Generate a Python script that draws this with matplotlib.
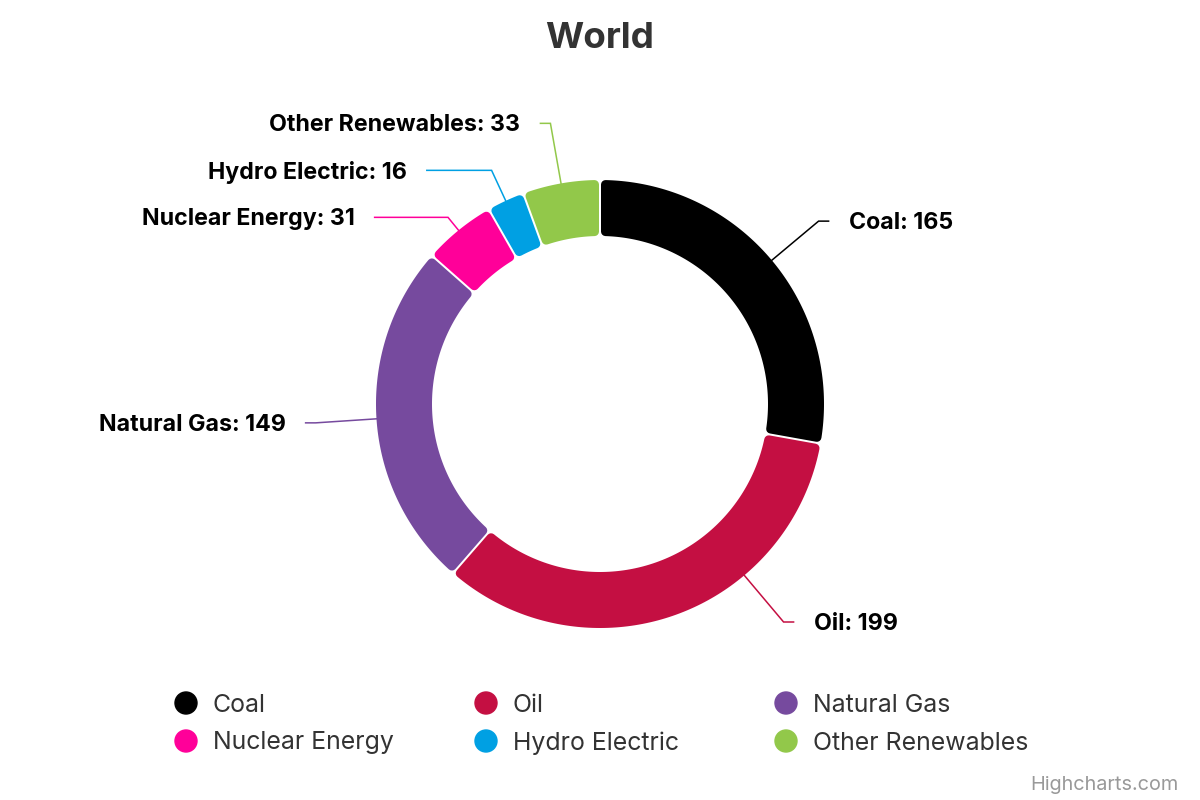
import numpy as np
import matplotlib
matplotlib.use("Agg")
import matplotlib.pyplot as plt
from matplotlib.patches import Polygon, Circle

plt.rcParams['font.family'] = ['Inter', 'DejaVu Sans']

# data
sources = ['Coal', 'Oil', 'Natural Gas', 'Nuclear Energy', 'Hydro Electric', 'Other Renewables']
values = [165, 199, 149, 31, 16, 33]
colors = ['#000000', '#c40f42', '#764a9e', '#ff0099', '#00a0e3', '#92c84a']

W, H = 1200, 800
fig = plt.figure(figsize=(12, 8), dpi=100)
ax = fig.add_axes([0, 0, 1, 1])

# pie geometry in pixel units (y pointing up)
cx, cy = 600, 396
R = 224
ring = 56
wedges, _ = ax.pie(values, colors=colors, startangle=90, counterclock=False,
                   radius=R, center=(cx, cy), wedgeprops=dict(width=ring))
ax.set_xlim(0, W)
ax.set_ylim(0, H)
ax.set_aspect('equal')
ax.axis('off')

# redraw each slice with rounded corners and a small white gap
rc = 4.5     # corner radius px
gap = 1.0    # half gap px
lw_pt = 2 * rc * 72 / 100
for w, col in zip(wedges, colors):
    w.set_visible(False)
    t1, t2 = np.radians(w.theta1), np.radians(w.theta2)
    ro, ri = R - rc, R - ring + rc
    d = rc + gap
    do, di = np.arcsin(d / ro), np.arcsin(d / ri)
    ao = np.linspace(t1 + do, t2 - do, 120)
    ai = np.linspace(t2 - di, t1 + di, 120)
    pts = np.vstack([np.column_stack([cx + ro * np.cos(ao), cy + ro * np.sin(ao)]),
                     np.column_stack([cx + ri * np.cos(ai), cy + ri * np.sin(ai)])])
    ax.add_patch(Polygon(pts, closed=True, facecolor=col, edgecolor=col,
                         linewidth=lw_pt, joinstyle='round', zorder=2))

# data labels with crooked connectors
Lr = R + 61
mids = [np.radians((w.theta1 + w.theta2) / 2) for w in wedges]
ys = [cy + Lr * np.sin(m) for m in mids]
ys = [max(y, H - 622) for y in ys]
# spread labels on each side so they don't overlap
for side in (1, -1):
    idx = [i for i, m in enumerate(mids) if np.sign(np.cos(m)) == side]
    idx.sort(key=lambda i: -ys[i])
    for a, b in zip(idx, idx[1:]):
        ys[b] = min(ys[b], ys[a] - 47)

for i, (m, y) in enumerate(zip(mids, ys)):
    s = 1 if np.cos(m) > 0 else -1
    xr = cx + (y - cy) / np.tan(m)
    xc = cx + s * np.sqrt(max(Lr ** 2 - (y - cy) ** 2, 0))
    if np.hypot(xr - cx, y - cy) < R + 15:
        ex = xc
        lx = xc
    else:
        ex = xr
        lx = max(xr, xc) if s > 0 else min(xr, xc)
    ang = np.arctan2(y - cy, ex - cx)
    sx, sy = cx + R * np.cos(ang), cy + R * np.sin(ang)
    lend = lx + s * 10
    ax.plot([sx, ex, lend], [sy, y, y], color=colors[i], lw=1.1, zorder=1,
            solid_joinstyle='miter')
    ax.text(lend + s * 20, y - 2, f'{sources[i]}: {values[i]}', ha='left' if s > 0 else 'right',
            va='center', fontsize=16.7, fontweight='bold', color='#000000')

# title
ax.text(W / 2, H - 39, 'World', ha='center', va='center', fontsize=26.5,
        fontweight='bold', color='#333333')

# legend
for i, (name, col) in enumerate(zip(sources, colors)):
    lx = 186 + 300 * (i % 3)
    ly = H - (703 + 38 * (i // 3))
    ax.add_patch(Circle((lx, ly), 11, color=col, zorder=3))
    ax.text(lx + 27, ly - 2, name, ha='left', va='center', fontsize=17.9, color='#333333')

# credits
ax.text(1179, H - 785, 'Highcharts.com', ha='right', va='center', fontsize=14.3,
        color='#999999')

fig.savefig('out.png', dpi=100, facecolor='white')
